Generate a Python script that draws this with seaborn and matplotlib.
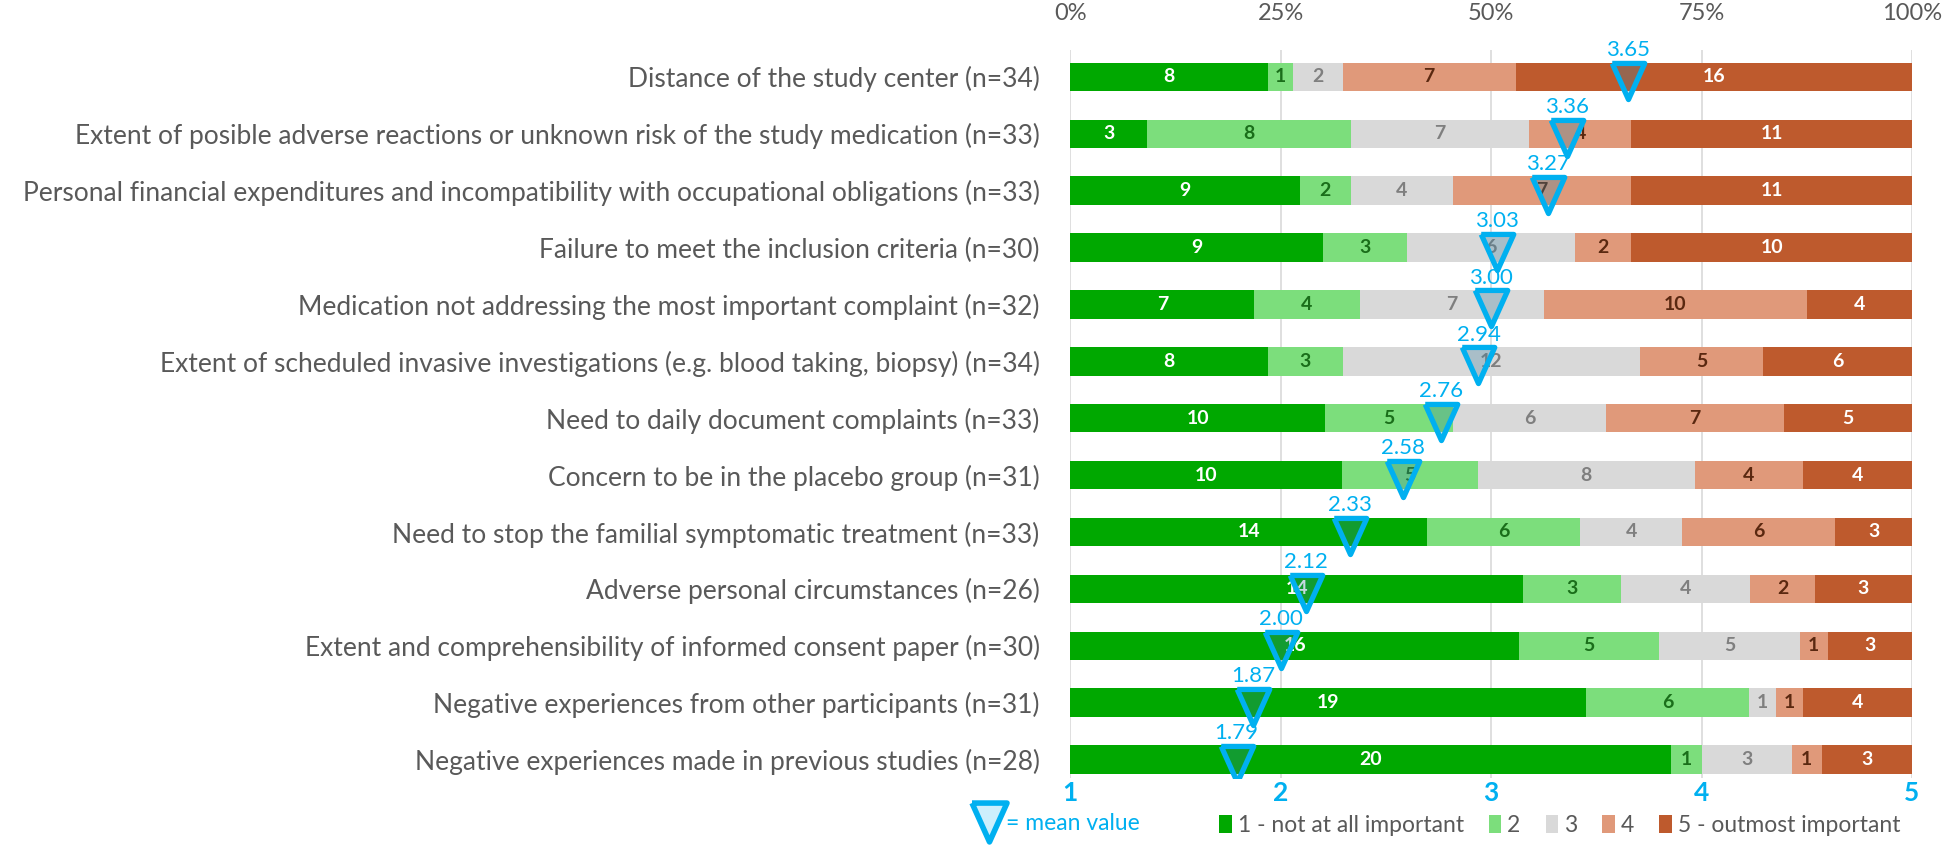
import matplotlib
matplotlib.use("Agg")
from matplotlib import pyplot as plt
from matplotlib.lines import Line2D
from matplotlib.patches import Patch
import seaborn as sns
import numpy as np

# Reasons, counts per importance level (1..5) and mean score
reasons = [
    "Distance of the study center (n=34)",
    "Extent of posible adverse reactions or unknown risk of the study medication (n=33)",
    "Personal financial expenditures and incompatibility with occupational obligations (n=33)",
    "Failure to meet the inclusion criteria (n=30)",
    "Medication not addressing the most important complaint (n=32)",
    "Extent of scheduled invasive investigations (e.g. blood taking, biopsy) (n=34)",
    "Need to daily document complaints (n=33)",
    "Concern to be in the placebo group (n=31)",
    "Need to stop the familial symptomatic treatment (n=33)",
    "Adverse personal circumstances (n=26)",
    "Extent and comprehensibility of informed consent paper (n=30)",
    "Negative experiences from other participants (n=31)",
    "Negative experiences made in previous studies (n=28)",
]
level1 = [8, 3, 9, 9, 7, 8, 10, 10, 14, 14, 16, 19, 20]
level2 = [1, 8, 2, 3, 4, 3, 5, 5, 6, 3, 5, 6, 1]
level3 = [2, 7, 4, 6, 7, 12, 6, 8, 4, 4, 5, 1, 3]
level4 = [7, 4, 7, 2, 10, 5, 7, 4, 6, 2, 1, 1, 1]
level5 = [16, 11, 11, 10, 4, 6, 5, 4, 3, 3, 3, 4, 3]
means = [3.65, 3.36, 3.27, 3.03, 3.00, 2.94, 2.76, 2.58, 2.33, 2.12, 2.00, 1.87, 1.79]

level_names = ["1 - not at all important", "2", "3", "4", "5 - outmost important"]
colors = ["#00A800", "#7CDE7C", "#D9D9D9", "#E0997A", "#BE5A2D"]
text_colors = ["white", "#1A6E1A", "#7F7F7F", "#5A2810", "white"]
blue = "#00B0F0"
grey = "#595959"

counts = np.array([level1, level2, level3, level4, level5], dtype=float)
pct = counts / counts.sum(axis=0) * 100
cum = np.cumsum(pct, axis=0)

sns.set_style("white")
plt.rcParams["font.family"] = ["Lato", "DejaVu Sans"]

fig = plt.figure(figsize=(19.46, 8.5), dpi=100)
ax = fig.add_axes([0.55, 0.085, 0.4325, 0.856])

# stacked 100% bars: draw cumulative layers from the right-most down
for k in range(4, -1, -1):
    sns.barplot(x=cum[k], y=reasons, orient="h", color=colors[k], saturation=1,
                width=0.5, linewidth=0, ax=ax, zorder=2)

# segment counts
for k in range(5):
    left = cum[k] - pct[k]
    for i in range(len(reasons)):
        if counts[k, i] > 0:
            ax.text(left[i] + pct[k, i] / 2, i, f"{int(counts[k, i])}", ha="center", va="center",
                    fontsize=14, fontweight="bold", color=text_colors[k], zorder=3)

# mean markers on the 1..5 scale
tri = [(-0.9, 1), (0.9, 1), (0, -1), (-0.9, 1)]
mean_x = [(m - 1) / 4 * 100 for m in means]
ypos = np.arange(len(reasons))
ax.plot(mean_x, ypos + 0.07, linestyle="none", marker=tri, markersize=26,
        markerfacecolor=(0.235, 0.51, 0.63, 0.3), markeredgecolor=blue, markeredgewidth=3.8, zorder=4)
for x, y, m in zip(mean_x, ypos, means):
    ax.annotate(f"{m:.2f}", (x, y - 0.27), xytext=(0, 1), textcoords="offset points",
                ha="center", va="bottom", fontsize=16, color=blue, zorder=5)

ax.set_xlim(0, 100)
ax.set_ylim(12.32, -0.47)
ax.set_xticks([0, 25, 50, 75, 100])
ax.xaxis.tick_top()
ax.set_xticklabels(["0%", "25%", "50%", "75%", "100%"], fontsize=17, color=grey)
ax.tick_params(axis="x", length=0, pad=19)
ax.tick_params(axis="y", length=0, pad=22, labelsize=19, labelcolor=grey)
ax.grid(axis="x", color="#D9D9D9", linewidth=1.2, zorder=0)
ax.set_axisbelow(True)
ax.set_xlabel("")
ax.set_ylabel("")
for s in ax.spines.values():
    s.set_visible(False)

score_ax = ax.secondary_xaxis("bottom", functions=(lambda p: p / 25 + 1, lambda s: (s - 1) * 25))
score_ax.set_xticks([1, 2, 3, 4, 5])
score_ax.tick_params(length=0, pad=2, labelsize=19, labelcolor=blue)
for lab in score_ax.get_xticklabels():
    lab.set_fontweight("bold")
score_ax.spines["bottom"].set_visible(False)

# legends
mean_handle = Line2D([], [], linestyle="none", marker=tri, markersize=28,
                     markerfacecolor="#CDEFFC", markeredgecolor=blue, markeredgewidth=4)
leg1 = fig.legend([mean_handle], ["= mean value"], loc="center left", bbox_to_anchor=(0.49, 0.031),
                  frameon=False, fontsize=16.5, handletextpad=0.1, handlelength=1.3)
for t in leg1.get_texts():
    t.set_color(blue)
handles = [Patch(facecolor=c, edgecolor="none") for c in colors]
leg2 = fig.legend(handles, level_names, loc="center right", bbox_to_anchor=(0.987, 0.029), ncol=5,
                  frameon=False, fontsize=16.5, handlelength=0.55, handleheight=0.8,
                  handletextpad=0.25, columnspacing=1.1)
for t in leg2.get_texts():
    t.set_color(grey)

fig.savefig("out.png", dpi=100)
